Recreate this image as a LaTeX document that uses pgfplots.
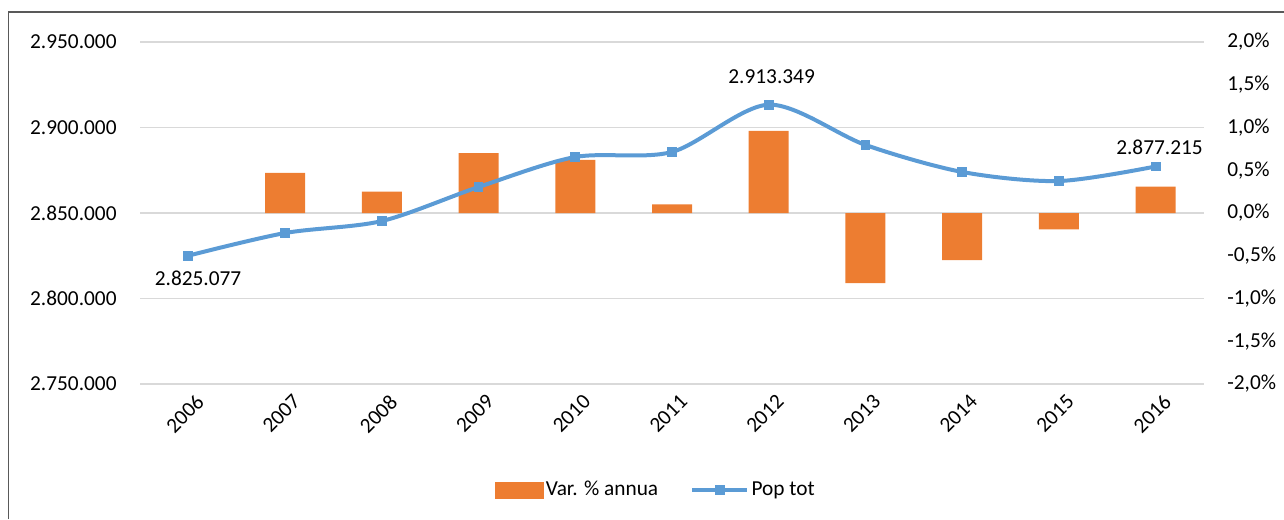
\documentclass[border=0pt]{standalone}
\usepackage{pgfplots}
\pgfplotsset{compat=1.18}
\usepackage{fontspec}
\setmainfont{Carlito}
\definecolor{barorange}{HTML}{ED7D31}
\definecolor{lineblue}{HTML}{5B9BD5}
\definecolor{gridgray}{HTML}{D9D9D9}
\definecolor{framegray}{HTML}{595959}
\begin{document}
\fontsize{16}{19}\selectfont
\begin{tikzpicture}[x=1pt,y=1pt]
\useasboundingbox (0,0) rectangle (963,389.25);
\draw[framegray, line width=1.2pt] (6.5,0) -- (6.5,380.25) -- (963,380.25);
\pgfplotsset{common/.style={at={(105pt,101.25pt)}, anchor=south west, scale only axis,
  width=798pt, height=256.5pt, xmin=-0.5, xmax=10.5, xtick={0,...,10},
  scaled y ticks=false, scaled x ticks=false,
  axis line style={draw=none}, major tick length=0pt, tick style={draw=none},
  every tick label/.append style={font=\fontsize{16}{19}\selectfont}}}
% axis 1: grid, left labels, x labels
\begin{axis}[common, ymin=2750000, ymax=2950000,
  ytick={2750000,2800000,2850000,2900000,2950000},
  yticklabels={2.750.000,2.800.000,2.850.000,2.900.000,2.950.000},
  ymajorgrids, grid style={gridgray, line width=1.4pt},
  xticklabels={2006,2007,2008,2009,2010,2011,2012,2013,2014,2015,2016},
  x tick label style={rotate=45, anchor=north east, yshift=-3pt, xshift=4pt},
  yticklabel style={xshift=-12pt}]
\end{axis}
% axis 2: bars, right labels
\begin{axis}[common, ymin=-2, ymax=2, axis y line*=right, axis x line=none,
  ytick={-2,-1.5,-1,-0.5,0,0.5,1,1.5,2},
  yticklabels={-2{,}0\%,-1{,}5\%,-1{,}0\%,-0{,}5\%,0{,}0\%,0{,}5\%,1{,}0\%,1{,}5\%,2{,}0\%},
  yticklabel style={xshift=12pt}, xticklabels={}]
\addplot[ybar, bar width=30pt, fill=barorange, draw=none] coordinates {
(1,0.47) (2,0.25) (3,0.70) (4,0.62) (5,0.10) (6,0.96) (7,-0.82) (8,-0.55) (9,-0.19) (10,0.31)};
\end{axis}
% axis 3: line
\begin{axis}[common, ymin=2750000, ymax=2950000, hide axis,
  legend style={at={(0.485,-0.31)}, anchor=center, draw=none, fill=none,
    legend columns=-1, font=\fontsize{16}{19}\selectfont,
    /tikz/every even column/.append style={column sep=22pt}},
  legend cell align=left]
\addlegendimage{legend image code/.code={\fill[barorange] (0pt,-6pt) rectangle (36pt,6pt);}}
\addlegendimage{legend image code/.code={\draw[lineblue, line width=3pt] (0pt,0pt) -- (41pt,0pt); \fill[lineblue] (17pt,-3.5pt) rectangle (24pt,3.5pt);}}
\addplot[lineblue, line width=3pt, smooth, tension=0.5, mark=square*, mark size=3.3pt,
  mark options={fill=lineblue, draw=lineblue, line width=0pt}, forget plot] coordinates {
(0,2825077) (1,2838300) (2,2845300) (3,2865200) (4,2882750) (5,2885700)
(6,2913349) (7,2889800) (8,2874000) (9,2868700) (10,2877215)};
\node at (axis cs:0.1,2811990) {2.825.077};
\node at (axis cs:6.03,2929532) {2.913.349};
\node at (axis cs:10.04,2888600) {2.877.215};
\legend{Var. \% annua, Pop tot}
\end{axis}
\end{tikzpicture}
\end{document}
